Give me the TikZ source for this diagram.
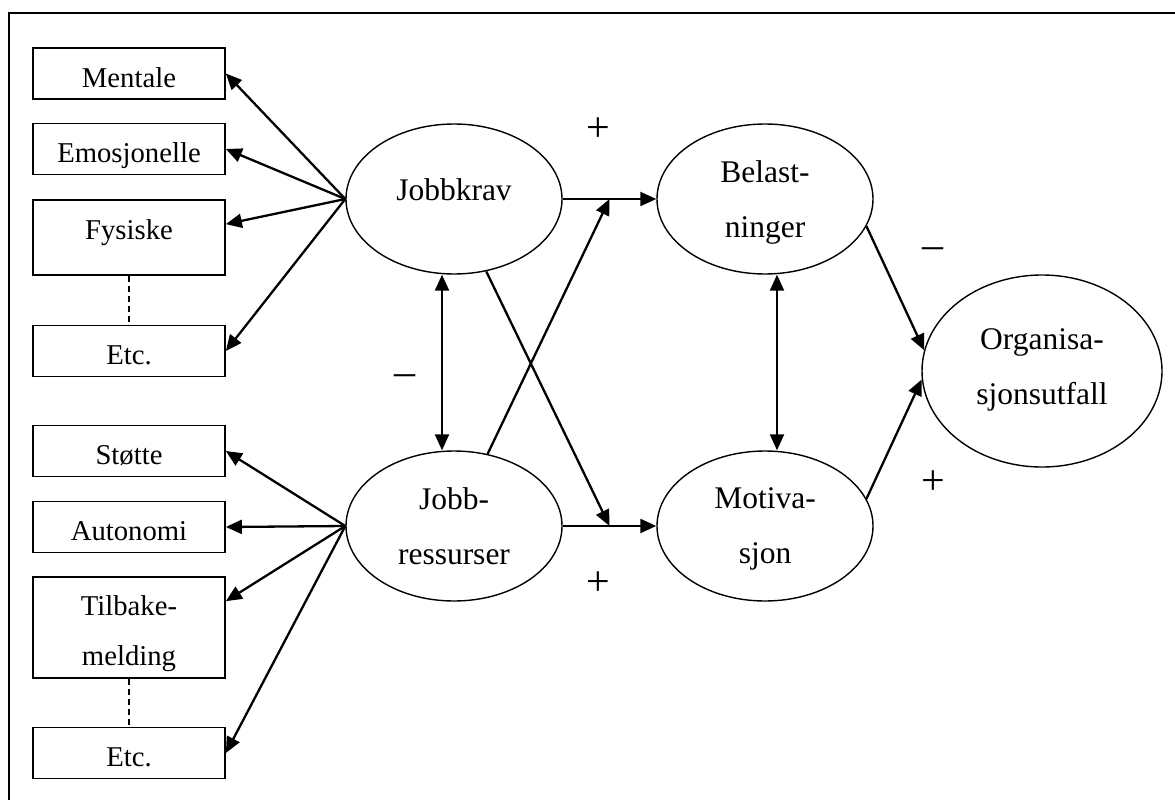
\documentclass[tikz,border=0pt]{standalone}
\usepackage{fontspec}
\setmainfont{Liberation Serif}
\usetikzlibrary{positioning,arrows.meta,calc,shapes.geometric}

\begin{document}
\begin{tikzpicture}[x=1pt,y=-1pt,>={Triangle[length=16pt,width=14pt]},on grid,
  font=\fontsize{28.7pt}{50pt}\selectfont,
  every node/.style={inner sep=0pt},
  factor/.style={draw,line width=1.7pt,minimum width=192pt,text height=39pt,text depth=12pt},
  latent/.style={draw,ellipse,line width=1.4pt,minimum width=216pt,minimum height=150pt,
    align=center,font=\fontsize{31.5pt}{55pt}\selectfont,text depth=-5.5pt},
  sign/.style={font=\fontsize{42pt}{42pt}\selectfont},
  link/.style={->,line width=2.3pt}]
  \useasboundingbox (0,0) rectangle (1175,800);
  \draw[line width=2pt] (9,800) -- (9,13) -- (1175,13);
  % demands
  \node[factor] (ment) at (129,73.5) {Mentale};
  \node[factor] (emo) [below=75.5pt of ment] {Emosjonelle};
  \node[factor,text depth=36pt] (fys) [below=88.5pt of emo] {Fysiske};
  \node[factor] (etcA) [below=113.5pt of fys] {Etc.};
  % resources
  \node[factor] (stotte) [below=100pt of etcA] {Støtte};
  \node[factor] (auto) [below=76pt of stotte] {Autonomi};
  \node[factor,align=center,text height=88pt,text depth=13pt] (tilb) [below=100.5pt of auto] {Tilbake-\\melding};
  \node[factor] (etcB) [below=125.5pt of tilb] {Etc.};
  % latent variables
  \node[latent,text depth=19.5pt] (jk) at (454,199) {Jobbkrav};
  \node[latent] (jr) [below=327pt of jk] {Jobb-\\ressurser};
  \node[latent] (be) [right=311pt of jk] {Belast-\\ninger};
  \node[latent] (mo) [below=327pt of be] {Motiva-\\sjon};
  \node[latent,minimum width=240pt,minimum height=192pt,text depth=8.5pt] (org) [below right=172pt and 277pt of be] {Organisa-\\sjonsutfall};
  \coordinate (topmid) at ($(jk.east)!0.5!(be.west)$);
  \coordinate (botmid) at ($(jr.east)!0.5!(mo.west)$);
  \draw[dashed,dash pattern=on 6pt off 4pt,line width=1.3pt] (fys) -- (etcA);
  \draw[dashed,dash pattern=on 6pt off 4pt,line width=1.3pt] (tilb) -- (etcB);
  \draw[link] (jk.west) -- (ment.east);
  \draw[link] (jk.west) -- (emo.east);
  \draw[link] (jk.west) -- ($(fys.north east)+(0,25)$);
  \draw[link] (jk.west) -- (etcA.east);
  \draw[link] (jr.west) -- (stotte.east);
  \draw[link] (jr.west) -- (auto.east);
  \draw[link] (jr.west) -- ($(tilb.north east)+(0,25)$);
  \draw[link] (jr.west) -- (etcB.east);
  \draw[link] (jk) -- (be);
  \draw[link] (jr) -- (mo);
  \draw[link] (jk.-66) -- (botmid);
  \draw[link] (jr.65) -- (topmid);
  \draw[link,<->] ([xshift=-12pt]jk.south) -- ([xshift=-12pt]jr.north);
  \draw[link,<->] ([xshift=12pt]be.south) -- ([xshift=12pt]mo.north);
  \draw[link] (be.-15) -- (org.170);
  \draw[link] (mo.15) -- (org.-176);
  % signs
  \node[sign] (plusA) at (598,130) {+};
  \node[sign] (minusA) at (405,380) {--};
  \node[sign] (plusB) at (598,584) {+};
  \node[sign] (minusB) at (933,253) {--};
  \node[sign] (plusC) at (933,483) {+};
\end{tikzpicture}
\end{document}
